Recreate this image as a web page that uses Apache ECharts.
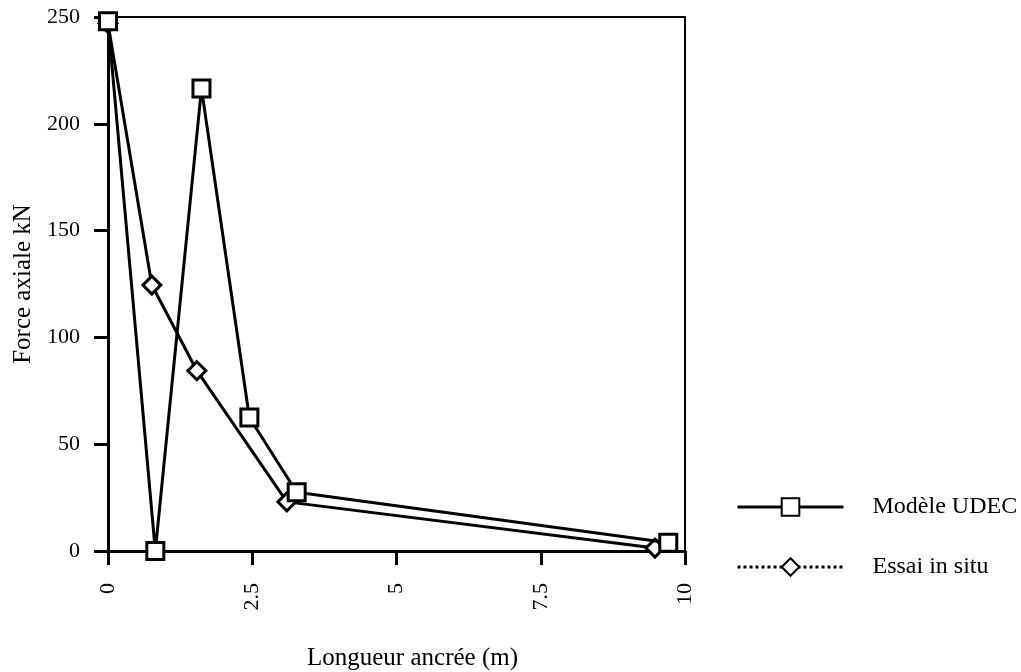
<!DOCTYPE html>
<html>
<head>
<meta charset="utf-8">
<script src="https://cdn.jsdelivr.net/npm/echarts@6/dist/echarts.min.js"></script>
<style>html,body{margin:0;padding:0;background:#fff;}#c{width:1021px;height:672px;}</style>
</head>
<body>
<div id="c"></div>
<script>
const udecX = [0, 0.82, 1.62, 2.45, 3.27, 9.71];
const udecY = [248, 0, 216.5, 62.5, 27.5, 3.9];
const essaiX = [0, 0.76, 1.54, 3.1, 9.48];
const essaiY = [247, 124.5, 84.4, 23, 1.4];
const seriesNames = ['Modèle UDEC', 'Essai in situ'];
const xTicks = {min: 0, max: 10, interval: 2.5};
const yTicks = {min: 0, max: 250, interval: 50};
const xTitle = 'Longueur ancrée (m)';
const yTitle = 'Force axiale kN';

const font = 'Liberation Serif';
const chart = echarts.init(document.getElementById('c'), null, {renderer: 'canvas'});
chart.setOption({
  animation: false,
  backgroundColor: '#fff',
  grid: {left: 108, right: 336, top: 17, bottom: 121, show: true, borderColor: '#000', borderWidth: 2, backgroundColor: 'transparent', outerBoundsMode: 'none', containLabel: false},
  xAxis: {
    type: 'value', min: xTicks.min, max: xTicks.max, interval: xTicks.interval,
    name: xTitle, nameLocation: 'middle', nameGap: 95,
    nameTextStyle: {fontFamily: font, fontSize: 25, color: '#000', padding: [0, 0, 0, 32]},
    axisLine: {show: true, onZero: false, lineStyle: {color: '#000', width: 3}},
    axisTick: {show: true, length: 14, lineStyle: {color: '#000', width: 3}},
    axisLabel: {rotate: 90, margin: 32, fontFamily: font, fontSize: 22, color: '#000'},
    splitLine: {show: false}
  },
  yAxis: {
    type: 'value', min: yTicks.min, max: yTicks.max, interval: yTicks.interval,
    name: yTitle, nameLocation: 'middle', nameGap: 72, nameRotate: 90,
    nameTextStyle: {fontFamily: font, fontSize: 25, color: '#000'},
    axisLine: {show: true, onZero: false, lineStyle: {color: '#000', width: 3}},
    axisTick: {show: true, length: 14, lineStyle: {color: '#000', width: 3}},
    axisLabel: {margin: 28, fontFamily: font, fontSize: 22, color: '#000'},
    splitLine: {show: false}
  },
  legend: {
    orient: 'vertical', left: 736, top: 495, padding: 0, itemWidth: 106, itemHeight: 22, itemGap: 36,
    textStyle: {fontFamily: font, fontSize: 24, color: '#000', padding: [0, 0, 0, 24]},
    data: [
      {name: seriesNames[0], lineStyle: {type: 'solid', width: 3}},
      {name: seriesNames[1], lineStyle: {type: 'dotted', width: 3}}
    ]
  },
  series: [
    {
      name: seriesNames[0], type: 'line',
      data: udecX.map((x, i) => [x, udecY[i]]),
      symbol: 'rect', symbolSize: 17,
      lineStyle: {color: '#000', width: 3},
      itemStyle: {color: '#fff', borderColor: '#000', borderWidth: 3},
      z: 3
    },
    {
      name: seriesNames[1], type: 'line',
      data: essaiX.map((x, i) => [x, essaiY[i]]),
      symbol: 'diamond', symbolSize: [18, 18],
      lineStyle: {color: '#000', width: 3},
      itemStyle: {color: '#fff', borderColor: '#000', borderWidth: 3},
      z: 2
    }
  ]
});
</script>
</body>
</html>
